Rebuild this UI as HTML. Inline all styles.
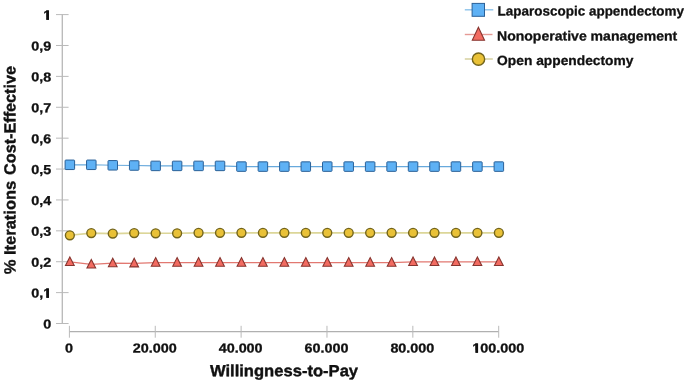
<!DOCTYPE html>
<html><head><meta charset="utf-8"><title>Cost-effectiveness acceptability curve</title>
<style>html,body{margin:0;padding:0;background:#fff}body{width:685px;height:382px;overflow:hidden}svg{display:block;will-change:transform;font-family:'Liberation Sans',sans-serif;font-weight:bold}svg text{text-rendering:geometricPrecision}</style></head>
<body>
<svg width="685" height="382" viewBox="0 0 685 382">
<line x1="62.3" y1="14.6" x2="62.3" y2="323.5" stroke="#bababa" stroke-width="1.35"/>
<g stroke="#bababa" stroke-width="1.0" fill="none">
<line x1="56" y1="323.50" x2="68.6" y2="323.50"/>
<line x1="56" y1="292.61" x2="68.6" y2="292.61"/>
<line x1="56" y1="261.72" x2="68.6" y2="261.72"/>
<line x1="56" y1="230.83" x2="68.6" y2="230.83"/>
<line x1="56" y1="199.94" x2="68.6" y2="199.94"/>
<line x1="56" y1="169.05" x2="68.6" y2="169.05"/>
<line x1="56" y1="138.16" x2="68.6" y2="138.16"/>
<line x1="56" y1="107.27" x2="68.6" y2="107.27"/>
<line x1="56" y1="76.38" x2="68.6" y2="76.38"/>
<line x1="56" y1="45.49" x2="68.6" y2="45.49"/>
<line x1="56" y1="14.60" x2="68.6" y2="14.60"/>
<line x1="69.4" y1="331.7" x2="498.7" y2="331.7" stroke="#b0b0b0" stroke-width="1.3"/>
<line x1="69.40" y1="325.8" x2="69.40" y2="337.7"/>
<line x1="155.26" y1="325.8" x2="155.26" y2="337.7"/>
<line x1="241.12" y1="325.8" x2="241.12" y2="337.7"/>
<line x1="326.98" y1="325.8" x2="326.98" y2="337.7"/>
<line x1="412.84" y1="325.8" x2="412.84" y2="337.7"/>
<line x1="498.70" y1="325.8" x2="498.70" y2="337.7"/>
</g>
<g fill="#111" stroke="#111" stroke-width="0.3" stroke-linejoin="round">
<text transform="translate(51.30,328.50) rotate(0.03) scale(1.105,1)" font-size="13.0" text-anchor="end">0</text>
<text transform="translate(51.30,297.61) rotate(0.03) scale(1.105,1)" font-size="13.0" text-anchor="end">0,1</text>
<text transform="translate(51.30,266.72) rotate(0.03) scale(1.105,1)" font-size="13.0" text-anchor="end">0,2</text>
<text transform="translate(51.30,235.83) rotate(0.03) scale(1.105,1)" font-size="13.0" text-anchor="end">0,3</text>
<text transform="translate(51.30,204.94) rotate(0.03) scale(1.105,1)" font-size="13.0" text-anchor="end">0,4</text>
<text transform="translate(51.30,174.05) rotate(0.03) scale(1.105,1)" font-size="13.0" text-anchor="end">0,5</text>
<text transform="translate(51.30,143.16) rotate(0.03) scale(1.105,1)" font-size="13.0" text-anchor="end">0,6</text>
<text transform="translate(51.30,112.27) rotate(0.03) scale(1.105,1)" font-size="13.0" text-anchor="end">0,7</text>
<text transform="translate(51.30,81.38) rotate(0.03) scale(1.105,1)" font-size="13.0" text-anchor="end">0,8</text>
<text transform="translate(51.30,50.49) rotate(0.03) scale(1.105,1)" font-size="13.0" text-anchor="end">0,9</text>
<text transform="translate(51.30,19.60) rotate(0.03) scale(1.105,1)" font-size="13.0" text-anchor="end">1</text>
<text transform="translate(68.90,352.45) rotate(0.03) scale(1.105,1)" font-size="13.0" text-anchor="middle">0</text>
<text transform="translate(154.76,352.45) rotate(0.03) scale(1.105,1)" font-size="13.0" text-anchor="middle">20.000</text>
<text transform="translate(240.62,352.45) rotate(0.03) scale(1.105,1)" font-size="13.0" text-anchor="middle">40.000</text>
<text transform="translate(326.48,352.45) rotate(0.03) scale(1.105,1)" font-size="13.0" text-anchor="middle">60.000</text>
<text transform="translate(412.34,352.45) rotate(0.03) scale(1.105,1)" font-size="13.0" text-anchor="middle">80.000</text>
<text transform="translate(498.20,352.45) rotate(0.03) scale(1.105,1)" font-size="13.0" text-anchor="middle">100.000</text>
<g stroke-width="0.4">
<text transform="translate(284.00,376.20) rotate(0.03) scale(1.0,1)" font-size="16.2" text-anchor="middle" textLength="148.2" lengthAdjust="spacingAndGlyphs">Willingness-to-Pay</text>
<text transform="translate(15.40,274.20) rotate(-89.97) scale(1.0,1)" font-size="16.2" textLength="93.4" lengthAdjust="spacingAndGlyphs">% Iterations</text>
<text transform="translate(15.40,174.90) rotate(-89.97) scale(1.0,1)" font-size="16.2" textLength="108.9" lengthAdjust="spacingAndGlyphs">Cost-Effective</text>
</g>
<text transform="translate(497.60,15.50) rotate(0.03) scale(1.0,1)" font-size="13.3" textLength="186.4" lengthAdjust="spacingAndGlyphs">Laparoscopic appendectomy</text>
<text transform="translate(497.00,40.40) rotate(0.03) scale(1.0,1)" font-size="13.3" textLength="180.2" lengthAdjust="spacingAndGlyphs">Nonoperative management</text>
<text transform="translate(497.10,65.00) rotate(0.03) scale(1.0,1)" font-size="13.3" textLength="136.3" lengthAdjust="spacingAndGlyphs">Open appendectomy</text>
</g>
<g fill="#fff"><rect x="42.6" y="17.55" width="3.7" height="3.2"/><rect x="49.0" y="17.55" width="2.8" height="3.2"/><rect x="472.4" y="350.4" width="3.1" height="3.3"/><rect x="478.0" y="350.4" width="2.4" height="3.3"/><rect x="43.3" y="295.55" width="3.0" height="3.2"/><rect x="49.0" y="295.55" width="2.8" height="3.2"/></g>
<g fill="#111"><rect x="46.4" y="10.5" width="2.55" height="9.3"/><rect x="475.5" y="343.5" width="2.6" height="9.2"/><rect x="46.4" y="288.5" width="2.55" height="9.3"/></g>
<polyline points="69.85,164.80 91.30,164.80 112.75,165.30 134.20,165.50 155.65,165.90 177.10,165.90 198.55,165.90 220.00,165.90 241.45,166.60 262.90,166.60 284.35,166.60 305.80,166.60 327.25,166.60 348.70,166.60 370.15,166.60 391.60,166.60 413.05,166.60 434.50,166.60 455.95,166.60 477.40,166.60 498.85,166.60" fill="none" stroke="#67a9dc" stroke-width="1.15"/>
<polyline points="69.85,235.30 91.30,233.10 112.75,233.60 134.20,233.10 155.65,233.30 177.10,233.30 198.55,232.85 220.00,232.85 241.45,232.85 262.90,232.85 284.35,232.85 305.80,232.85 327.25,232.85 348.70,232.85 370.15,232.85 391.60,232.85 413.05,232.85 434.50,232.85 455.95,232.85 477.40,232.85 498.85,232.85" fill="none" stroke="#dcd698" stroke-width="1.6"/>
<polyline points="69.85,261.90 91.30,264.40 112.75,263.20 134.20,263.30 155.65,262.60 177.10,262.60 198.55,262.60 220.00,262.60 241.45,262.60 262.90,262.60 284.35,262.60 305.80,262.60 327.25,262.60 348.70,262.60 370.15,262.60 391.60,262.60 413.05,261.90 434.50,261.90 455.95,261.90 477.40,261.90 498.85,261.90" fill="none" stroke="#e27871" stroke-width="1.15"/>
<rect x="65.10" y="160.05" width="9.5" height="9.5" rx="0.7" fill="#5eb1f5" stroke="#2b6198" stroke-width="1"/>
<rect x="86.55" y="160.05" width="9.5" height="9.5" rx="0.7" fill="#5eb1f5" stroke="#2b6198" stroke-width="1"/>
<rect x="108.00" y="160.55" width="9.5" height="9.5" rx="0.7" fill="#5eb1f5" stroke="#2b6198" stroke-width="1"/>
<rect x="129.45" y="160.75" width="9.5" height="9.5" rx="0.7" fill="#5eb1f5" stroke="#2b6198" stroke-width="1"/>
<rect x="150.90" y="161.15" width="9.5" height="9.5" rx="0.7" fill="#5eb1f5" stroke="#2b6198" stroke-width="1"/>
<rect x="172.35" y="161.15" width="9.5" height="9.5" rx="0.7" fill="#5eb1f5" stroke="#2b6198" stroke-width="1"/>
<rect x="193.80" y="161.15" width="9.5" height="9.5" rx="0.7" fill="#5eb1f5" stroke="#2b6198" stroke-width="1"/>
<rect x="215.25" y="161.15" width="9.5" height="9.5" rx="0.7" fill="#5eb1f5" stroke="#2b6198" stroke-width="1"/>
<rect x="236.70" y="161.85" width="9.5" height="9.5" rx="0.7" fill="#5eb1f5" stroke="#2b6198" stroke-width="1"/>
<rect x="258.15" y="161.85" width="9.5" height="9.5" rx="0.7" fill="#5eb1f5" stroke="#2b6198" stroke-width="1"/>
<rect x="279.60" y="161.85" width="9.5" height="9.5" rx="0.7" fill="#5eb1f5" stroke="#2b6198" stroke-width="1"/>
<rect x="301.05" y="161.85" width="9.5" height="9.5" rx="0.7" fill="#5eb1f5" stroke="#2b6198" stroke-width="1"/>
<rect x="322.50" y="161.85" width="9.5" height="9.5" rx="0.7" fill="#5eb1f5" stroke="#2b6198" stroke-width="1"/>
<rect x="343.95" y="161.85" width="9.5" height="9.5" rx="0.7" fill="#5eb1f5" stroke="#2b6198" stroke-width="1"/>
<rect x="365.40" y="161.85" width="9.5" height="9.5" rx="0.7" fill="#5eb1f5" stroke="#2b6198" stroke-width="1"/>
<rect x="386.85" y="161.85" width="9.5" height="9.5" rx="0.7" fill="#5eb1f5" stroke="#2b6198" stroke-width="1"/>
<rect x="408.30" y="161.85" width="9.5" height="9.5" rx="0.7" fill="#5eb1f5" stroke="#2b6198" stroke-width="1"/>
<rect x="429.75" y="161.85" width="9.5" height="9.5" rx="0.7" fill="#5eb1f5" stroke="#2b6198" stroke-width="1"/>
<rect x="451.20" y="161.85" width="9.5" height="9.5" rx="0.7" fill="#5eb1f5" stroke="#2b6198" stroke-width="1"/>
<rect x="472.65" y="161.85" width="9.5" height="9.5" rx="0.7" fill="#5eb1f5" stroke="#2b6198" stroke-width="1"/>
<rect x="494.10" y="161.85" width="9.5" height="9.5" rx="0.7" fill="#5eb1f5" stroke="#2b6198" stroke-width="1"/>
<circle cx="69.85" cy="235.30" r="4.45" fill="#e9c137" stroke="#72641c" stroke-width="1.4"/>
<circle cx="91.30" cy="233.10" r="4.45" fill="#e9c137" stroke="#72641c" stroke-width="1.4"/>
<circle cx="112.75" cy="233.60" r="4.45" fill="#e9c137" stroke="#72641c" stroke-width="1.4"/>
<circle cx="134.20" cy="233.10" r="4.45" fill="#e9c137" stroke="#72641c" stroke-width="1.4"/>
<circle cx="155.65" cy="233.30" r="4.45" fill="#e9c137" stroke="#72641c" stroke-width="1.4"/>
<circle cx="177.10" cy="233.30" r="4.45" fill="#e9c137" stroke="#72641c" stroke-width="1.4"/>
<circle cx="198.55" cy="232.85" r="4.45" fill="#e9c137" stroke="#72641c" stroke-width="1.4"/>
<circle cx="220.00" cy="232.85" r="4.45" fill="#e9c137" stroke="#72641c" stroke-width="1.4"/>
<circle cx="241.45" cy="232.85" r="4.45" fill="#e9c137" stroke="#72641c" stroke-width="1.4"/>
<circle cx="262.90" cy="232.85" r="4.45" fill="#e9c137" stroke="#72641c" stroke-width="1.4"/>
<circle cx="284.35" cy="232.85" r="4.45" fill="#e9c137" stroke="#72641c" stroke-width="1.4"/>
<circle cx="305.80" cy="232.85" r="4.45" fill="#e9c137" stroke="#72641c" stroke-width="1.4"/>
<circle cx="327.25" cy="232.85" r="4.45" fill="#e9c137" stroke="#72641c" stroke-width="1.4"/>
<circle cx="348.70" cy="232.85" r="4.45" fill="#e9c137" stroke="#72641c" stroke-width="1.4"/>
<circle cx="370.15" cy="232.85" r="4.45" fill="#e9c137" stroke="#72641c" stroke-width="1.4"/>
<circle cx="391.60" cy="232.85" r="4.45" fill="#e9c137" stroke="#72641c" stroke-width="1.4"/>
<circle cx="413.05" cy="232.85" r="4.45" fill="#e9c137" stroke="#72641c" stroke-width="1.4"/>
<circle cx="434.50" cy="232.85" r="4.45" fill="#e9c137" stroke="#72641c" stroke-width="1.4"/>
<circle cx="455.95" cy="232.85" r="4.45" fill="#e9c137" stroke="#72641c" stroke-width="1.4"/>
<circle cx="477.40" cy="232.85" r="4.45" fill="#e9c137" stroke="#72641c" stroke-width="1.4"/>
<circle cx="498.85" cy="232.85" r="4.45" fill="#e9c137" stroke="#72641c" stroke-width="1.4"/>
<polygon points="69.85,256.90 74.20,265.50 65.50,265.50" fill="#f26b61" stroke="#87352f" stroke-width="1.1" stroke-linejoin="miter"/>
<polygon points="91.30,259.40 95.65,268.00 86.95,268.00" fill="#f26b61" stroke="#87352f" stroke-width="1.1" stroke-linejoin="miter"/>
<polygon points="112.75,258.20 117.10,266.80 108.40,266.80" fill="#f26b61" stroke="#87352f" stroke-width="1.1" stroke-linejoin="miter"/>
<polygon points="134.20,258.30 138.55,266.90 129.85,266.90" fill="#f26b61" stroke="#87352f" stroke-width="1.1" stroke-linejoin="miter"/>
<polygon points="155.65,257.60 160.00,266.20 151.30,266.20" fill="#f26b61" stroke="#87352f" stroke-width="1.1" stroke-linejoin="miter"/>
<polygon points="177.10,257.60 181.45,266.20 172.75,266.20" fill="#f26b61" stroke="#87352f" stroke-width="1.1" stroke-linejoin="miter"/>
<polygon points="198.55,257.60 202.90,266.20 194.20,266.20" fill="#f26b61" stroke="#87352f" stroke-width="1.1" stroke-linejoin="miter"/>
<polygon points="220.00,257.60 224.35,266.20 215.65,266.20" fill="#f26b61" stroke="#87352f" stroke-width="1.1" stroke-linejoin="miter"/>
<polygon points="241.45,257.60 245.80,266.20 237.10,266.20" fill="#f26b61" stroke="#87352f" stroke-width="1.1" stroke-linejoin="miter"/>
<polygon points="262.90,257.60 267.25,266.20 258.55,266.20" fill="#f26b61" stroke="#87352f" stroke-width="1.1" stroke-linejoin="miter"/>
<polygon points="284.35,257.60 288.70,266.20 280.00,266.20" fill="#f26b61" stroke="#87352f" stroke-width="1.1" stroke-linejoin="miter"/>
<polygon points="305.80,257.60 310.15,266.20 301.45,266.20" fill="#f26b61" stroke="#87352f" stroke-width="1.1" stroke-linejoin="miter"/>
<polygon points="327.25,257.60 331.60,266.20 322.90,266.20" fill="#f26b61" stroke="#87352f" stroke-width="1.1" stroke-linejoin="miter"/>
<polygon points="348.70,257.60 353.05,266.20 344.35,266.20" fill="#f26b61" stroke="#87352f" stroke-width="1.1" stroke-linejoin="miter"/>
<polygon points="370.15,257.60 374.50,266.20 365.80,266.20" fill="#f26b61" stroke="#87352f" stroke-width="1.1" stroke-linejoin="miter"/>
<polygon points="391.60,257.60 395.95,266.20 387.25,266.20" fill="#f26b61" stroke="#87352f" stroke-width="1.1" stroke-linejoin="miter"/>
<polygon points="413.05,256.90 417.40,265.50 408.70,265.50" fill="#f26b61" stroke="#87352f" stroke-width="1.1" stroke-linejoin="miter"/>
<polygon points="434.50,256.90 438.85,265.50 430.15,265.50" fill="#f26b61" stroke="#87352f" stroke-width="1.1" stroke-linejoin="miter"/>
<polygon points="455.95,256.90 460.30,265.50 451.60,265.50" fill="#f26b61" stroke="#87352f" stroke-width="1.1" stroke-linejoin="miter"/>
<polygon points="477.40,256.90 481.75,265.50 473.05,265.50" fill="#f26b61" stroke="#87352f" stroke-width="1.1" stroke-linejoin="miter"/>
<polygon points="498.85,256.90 503.20,265.50 494.50,265.50" fill="#f26b61" stroke="#87352f" stroke-width="1.1" stroke-linejoin="miter"/>
<line x1="464.8" y1="9.8" x2="493.3" y2="9.8" stroke="#8dc3ea" stroke-width="1.4"/>
<rect x="472.10" y="3.40" width="12.4" height="12.9" fill="#5eb1f5" stroke="#2b6198" stroke-width="1"/>
<line x1="464.8" y1="34.5" x2="492.5" y2="34.5" stroke="#e59a95" stroke-width="1.4"/>
<polygon points="478.40,27.30 484.50,40.20 472.30,40.20" fill="#f26b61" stroke="#87352f" stroke-width="1.1" stroke-linejoin="miter"/>
<line x1="464.8" y1="59.0" x2="492.8" y2="59.0" stroke="#d3cd98" stroke-width="1.4"/>
<circle cx="478.50" cy="59.15" r="6.15" fill="#e9c137" stroke="#72641c" stroke-width="1.4"/>
</svg>
</body></html>
